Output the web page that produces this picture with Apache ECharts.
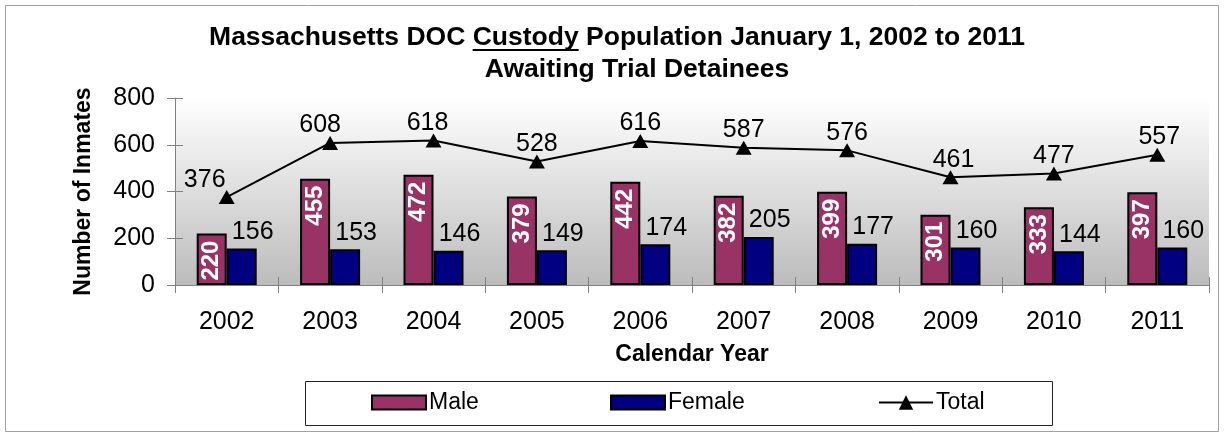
<!DOCTYPE html>
<html>
<head>
<meta charset="utf-8">
<script src="https://cdn.jsdelivr.net/npm/echarts@6/dist/echarts.min.js"></script>
<style>
  html, body { margin: 0; padding: 0; background: #fff; }
  #chart { width: 1225px; height: 433px; }
</style>
</head>
<body>
<div id="chart"></div>
<script>
const years = ['2002', '2003', '2004', '2005', '2006', '2007', '2008', '2009', '2010', '2011'];
const male = [220, 455, 472, 379, 442, 382, 399, 301, 333, 397];
const female = [156, 153, 146, 149, 174, 205, 177, 160, 144, 160];
const total = [376, 608, 618, 528, 616, 587, 576, 461, 477, 557];

const titleLine1 = 'Massachusetts DOC Custody Population January 1, 2002 to 2011';
const titleLine2 = 'Awaiting Trial Detainees';
const FONT = '"Liberation Sans", Arial, sans-serif';
const TITLE_FONT = 'bold 26.5px ' + FONT;

// measure title pieces so the underline sits under "Custody"
const ctx = document.createElement('canvas').getContext('2d');
ctx.font = TITLE_FONT;
const w1 = ctx.measureText(titleLine1).width;
const wPre = ctx.measureText('Massachusetts DOC ').width;
const wCust = ctx.measureText('Custody').width;
const titleCx = 617;
const uStart = titleCx - w1 / 2 + wPre;

// small nudges for the total labels (first points pushed left like the original)
const totalShift = [-22, -10, -6, 0, 0, 0, 0, 3, 0, 2];

const chart = echarts.init(document.getElementById('chart'));

const axisGrey = '#808080';

chart.setOption({
    animation: false,
    textStyle: { fontFamily: FONT },
    grid: {
        left: 175, right: 16, top: 98, bottom: 148,
        show: true,
        borderWidth: 0,
        backgroundColor: new echarts.graphic.LinearGradient(0, 0, 0, 1, [
            { offset: 0, color: '#ffffff' },
            { offset: 1, color: '#bcbcbc' }
        ])
    },
    legend: [
        { data: [{ name: 'Male', icon: 'rect' }], left: 371 },
        { data: [{ name: 'Female', icon: 'rect' }], left: 610 },
        { data: ['Total'], left: 878, itemHeight: 18 }
    ].map(l => Object.assign({
        top: 391,
        padding: 0,
        itemWidth: 54,
        itemHeight: 14,
        itemGap: 5,
        textStyle: { fontSize: 23, color: '#000', fontFamily: FONT, padding: [0, 0, 0, -2] }
    }, l)),
    xAxis: [
        {
            type: 'category',
            data: years,
            name: 'Calendar Year',
            nameLocation: 'middle',
            nameGap: 58,
            nameTextStyle: { fontSize: 23, fontWeight: 'bold', color: '#000' },
            axisLine: { lineStyle: { color: axisGrey, width: 1 } },
            axisTick: { show: true, length: 8, lineStyle: { color: axisGrey } },
            axisLabel: { fontSize: 25, color: '#000', margin: 25 },
            splitLine: { show: false }
        },
        {
            type: 'category',
            data: years,
            position: 'bottom',
            axisLine: { show: false },
            axisTick: { show: true, inside: true, length: 8, lineStyle: { color: axisGrey } },
            axisLabel: { show: false },
            splitLine: { show: false }
        }
    ],
    yAxis: [
        {
            type: 'value',
            min: 0, max: 800, interval: 200,
            name: 'Number of Inmates',
            nameLocation: 'middle',
            nameGap: 80,
            nameTextStyle: { fontSize: 23, fontWeight: 'bold', color: '#000' },
            axisLine: { show: true, lineStyle: { color: axisGrey, width: 1 } },
            axisTick: { show: true, length: 8, lineStyle: { color: axisGrey } },
            axisLabel: { fontSize: 25, color: '#000', margin: 20 },
            splitLine: { show: false }
        },
        {
            type: 'value',
            min: 0, max: 800, interval: 200,
            position: 'left',
            axisLine: { show: false },
            axisTick: { show: true, inside: true, length: 8, lineStyle: { color: axisGrey } },
            axisLabel: { show: false },
            splitLine: { show: false }
        }
    ],
    series: [
        {
            name: 'Male',
            type: 'bar',
            data: male,
            barWidth: 30,
            barGap: '0%',
            itemStyle: { color: '#993366', borderColor: '#000', borderWidth: 2 },
            label: {
                show: true,
                position: 'insideTop',
                distance: 7,
                rotate: 90,
                align: 'right',
                verticalAlign: 'middle',
                color: '#fff',
                fontSize: 24,
                fontWeight: 'bold'
            }
        },
        {
            name: 'Female',
            type: 'bar',
            data: female,
            barWidth: 30,
            itemStyle: { color: '#000080', borderColor: '#000', borderWidth: 2 },
            label: {
                show: true,
                position: 'top',
                distance: 4,
                offset: [11, 0],
                color: '#000',
                fontSize: 25
            }
        },
        {
            name: 'Total',
            type: 'line',
            data: total.map((v, i) => ({
                value: v,
                label: { offset: [totalShift[i], 0] }
            })),
            symbol: 'triangle',
            symbolSize: [16, 14],
            lineStyle: { color: '#000', width: 2 },
            itemStyle: { color: '#000' },
            label: {
                show: true,
                position: 'top',
                distance: -2,
                color: '#000',
                fontSize: 25
            },
            z: 5
        }
    ],
    graphic: [
        {
            type: 'rect',
            silent: true,
            shape: { x: 5.5, y: 5.5, width: 1213, height: 426 },
            style: { fill: 'none', stroke: '#a0a0a0', lineWidth: 1 }
        },
        {
            type: 'rect',
            silent: true,
            shape: { x: 305.5, y: 381.5, width: 747, height: 44 },
            style: { fill: 'none', stroke: '#222', lineWidth: 1 }
        },
        {
            type: 'text',
            x: titleCx, y: 38,
            style: {
                text: titleLine1, fill: '#000',
                font: TITLE_FONT,
                align: 'center', verticalAlign: 'middle'
            }
        },
        {
            type: 'line',
            silent: true,
            shape: { x1: uStart, y1: 50, x2: uStart + wCust, y2: 50 },
            style: { stroke: '#000', lineWidth: 2 }
        },
        {
            type: 'text',
            x: 637, y: 70,
            style: {
                text: titleLine2, fill: '#000',
                font: TITLE_FONT,
                align: 'center', verticalAlign: 'middle'
            }
        }
    ]
});
</script>
</body>
</html>
